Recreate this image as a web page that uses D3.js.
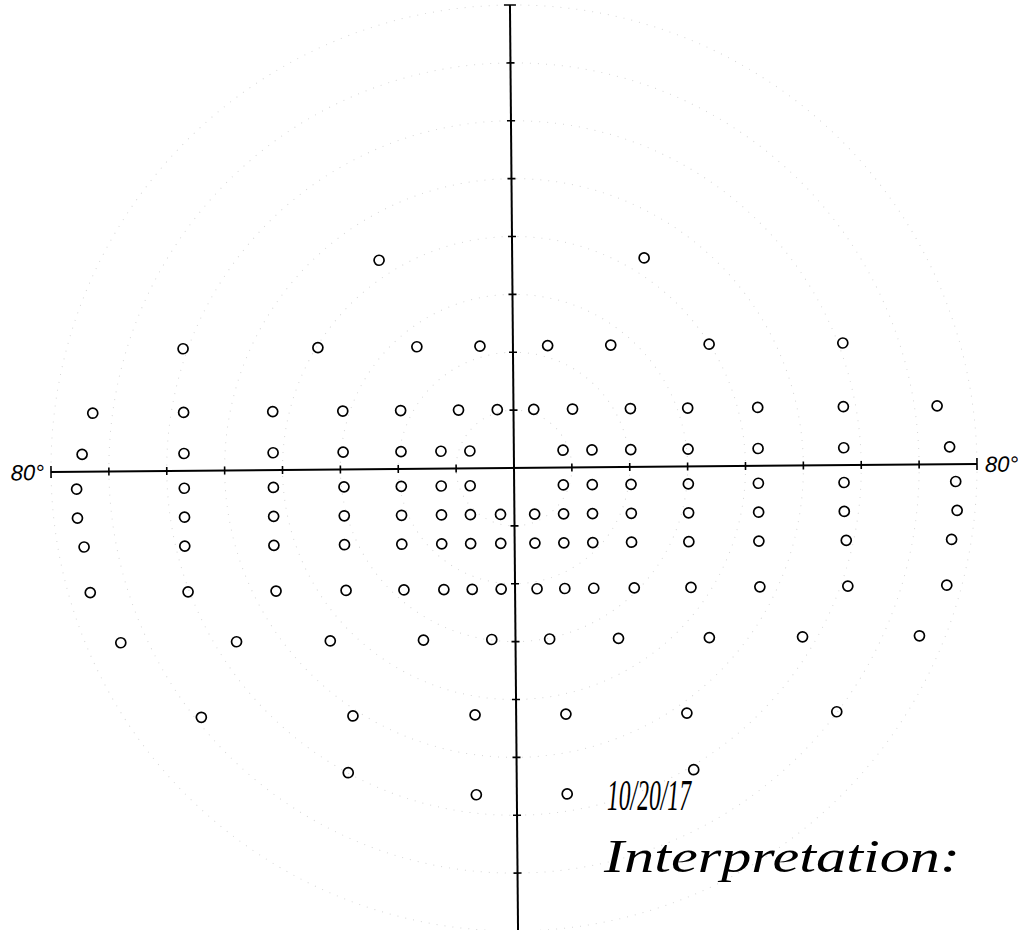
<!doctype html>
<html>
<head>
<meta charset="utf-8">
<style>
  body { margin: 0; background: #fff; }
  svg { display: block; }
</style>
</head>
<body>
<svg></svg>
<script src="https://d3js.org/d3.v7.min.js"></script>
<script>

// test points, grouped by row: elevation (deg, + is up) and azimuths (deg, + is right)
const rowElevation = [36.1, 21.1, 10.1, 3.0, -3.0, -8.0, -13.0, -20.9, -29.6, -42.6, -52.4, -56.4];
const rowAzimuths = [
  [-23.0, 22.8],
  [-57.0, -33.7, -16.6, -5.7, 6.0, 16.9, 33.9, 57.0],
  [-72.7, -57.0, -41.6, -29.5, -19.5, -9.5, -2.8, 3.5, 10.2, 20.2, 30.1, 42.2, 57.0, 73.2],
  [-74.6, -57.0, -41.6, -29.5, -19.5, -12.6, -7.6, 8.5, 13.5, 20.2, 30.1, 42.2, 57.0, 75.3],
  [-75.6, -57.0, -41.6, -29.4, -19.5, -12.6, -7.6, 8.5, 13.5, 20.2, 30.1, 42.2, 57.0, 76.3],
  [-75.5, -57.0, -41.6, -29.4, -19.5, -12.6, -7.6, -2.4, 3.5, 8.5, 13.5, 20.2, 30.1, 42.2, 57.0, 76.5],
  [-74.4, -57.0, -41.6, -29.4, -19.5, -12.6, -7.6, -2.4, 3.5, 8.5, 13.5, 20.2, 30.1, 42.2, 57.3, 75.5],
  [-73.4, -56.5, -41.3, -29.2, -19.2, -12.3, -7.4, -2.4, 3.8, 8.6, 13.6, 20.6, 30.4, 42.3, 57.5, 74.6],
  [-68.2, -48.2, -32.0, -15.9, -4.1, 5.9, 17.8, 33.5, 49.6, 69.8],
  [-54.4, -28.2, -7.1, 8.6, 29.5, 55.4],
  [-29.1, 30.6],
  [-7.0, 8.7]
];

const ringDegrees = [10, 20, 30, 40, 50, 60, 70, 80];
const tickDegrees = d3.range(-80, 81, 10);
const axisLabel = "80°";
const notes = ["10/20/17", "Interpretation:"];

let width = 1018,
    height = 930,
    cx = 514,
    cy = 468,
    R = 463;

let svg = d3.select("svg")
    .attr("width", width)
    .attr("height", height);

let x = d3.scaleLinear().domain([-80, 80]).range([cx - R, cx + R]);
let y = d3.scaleLinear().domain([-80, 80]).range([cy + R, cy - R]);
let r = d3.scaleLinear().domain([0, 80]).range([0, R]);

// the scan is a hair off square
let g = svg.append("g")
    .attr("transform", "rotate(-0.5," + cx + "," + cy + ")");

// faint dotted isopter rings
g.append("g")
  .selectAll("circle")
  .data(ringDegrees)
  .enter()
  .append("circle")
    .attr("cx", cx)
    .attr("cy", cy)
    .attr("r", d => r(d))
    .attr("fill", "none")
    .attr("stroke", "#d6d6d6")
    .attr("stroke-width", 1)
    .attr("stroke-dasharray", "1,7");

// axes
let axes = g.append("g").attr("stroke", "#000");

axes.append("line")
    .attr("x1", x(-80)).attr("x2", x(80))
    .attr("y1", cy).attr("y2", cy)
    .attr("stroke-width", 2);

axes.append("line")
    .attr("x1", cx).attr("x2", cx)
    .attr("y1", y(80)).attr("y2", y(-80))
    .attr("stroke-width", 2);

axes.selectAll(".xt")
  .data(tickDegrees.filter(d => d !== 0))
  .enter()
  .append("line")
    .attr("class", "xt")
    .attr("x1", d => x(d)).attr("x2", d => x(d))
    .attr("y1", d => cy - (Math.abs(d) === 80 ? 6 : 4))
    .attr("y2", d => cy + (Math.abs(d) === 80 ? 6 : 4))
    .attr("stroke-width", 1.6);

axes.selectAll(".yt")
  .data(tickDegrees.filter(d => d !== 0))
  .enter()
  .append("line")
    .attr("class", "yt")
    .attr("y1", d => y(d)).attr("y2", d => y(d))
    .attr("x1", d => cx - (Math.abs(d) === 80 ? 6 : 4))
    .attr("x2", d => cx + (Math.abs(d) === 80 ? 6 : 4))
    .attr("stroke-width", 1.6);

// 80° labels at the ends of the horizontal meridian
g.append("text")
    .attr("x", x(-80) - 7)
    .attr("y", cy + 8)
    .attr("text-anchor", "end")
    .style("font", "italic 22px 'Liberation Sans', Arial, sans-serif")
    .text(axisLabel);

g.append("text")
    .attr("x", x(80) + 8)
    .attr("y", cy + 8)
    .attr("text-anchor", "start")
    .style("font", "italic 22px 'Liberation Sans', Arial, sans-serif")
    .text(axisLabel);

// test points
let points = [];
rowElevation.forEach((e, i) => {
  rowAzimuths[i].forEach(a => points.push({a: a, e: e}));
});

g.append("g")
  .selectAll("circle")
  .data(points)
  .enter()
  .append("circle")
    .attr("cx", d => x(d.a))
    .attr("cy", d => y(d.e))
    .attr("r", 5)
    .attr("fill", "none")
    .attr("stroke", "#000")
    .attr("stroke-width", 1.7);

// handwritten notes
svg.append("text")
    .attr("x", 607)
    .attr("y", 810)
    .attr("textLength", 84)
    .attr("lengthAdjust", "spacingAndGlyphs")
    .style("font", "italic 44px 'Liberation Serif', serif")
    .text(notes[0]);

svg.append("text")
    .attr("x", 604)
    .attr("y", 872)
    .attr("textLength", 356)
    .attr("lengthAdjust", "spacingAndGlyphs")
    .style("font", "italic 46px 'Liberation Serif', serif")
    .text(notes[1]);

</script>
</body>
</html>
